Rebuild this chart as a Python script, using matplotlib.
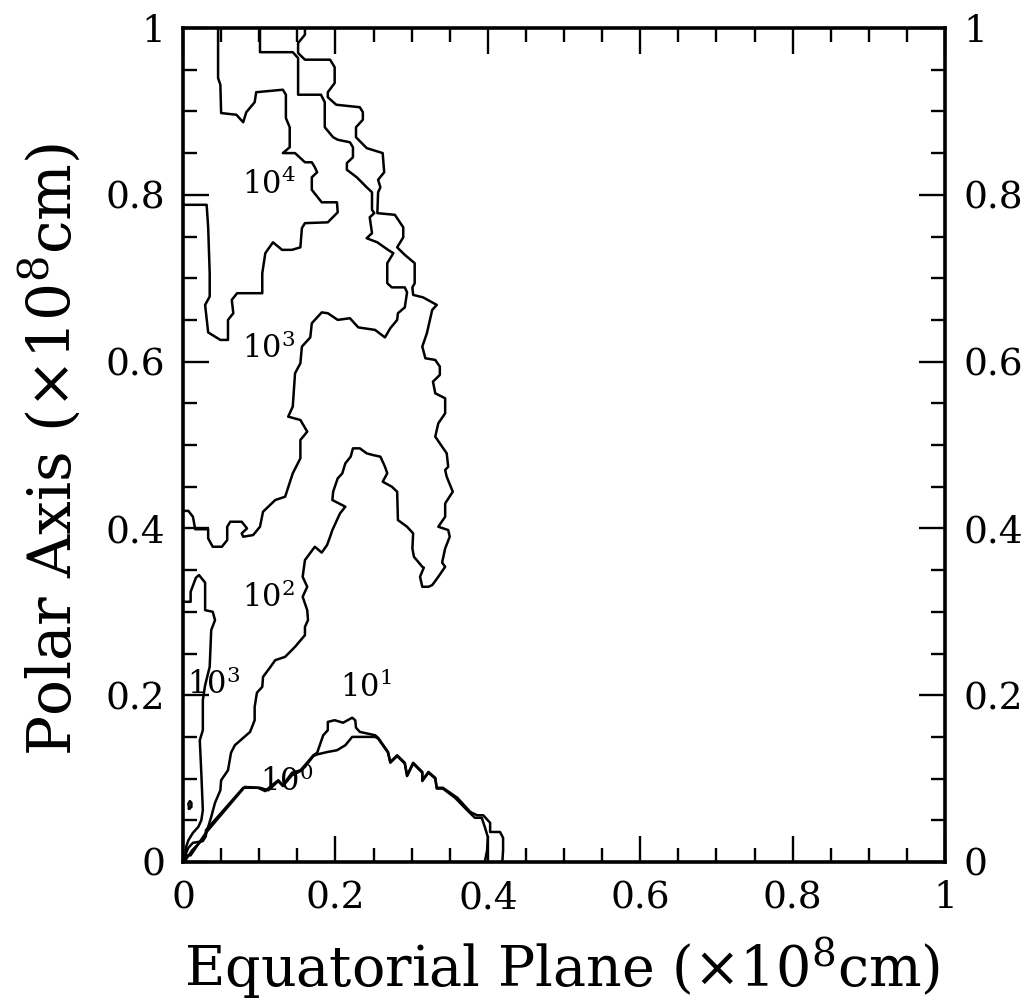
import matplotlib
matplotlib.use("Agg")
import matplotlib.pyplot as plt
from matplotlib.ticker import MultipleLocator

# contour traces, (x, y) in units of 1e8 cm
c4 = [(0.046, 1.0), (0.046, 0.940), (0.049, 0.932), (0.050, 0.898), (0.070, 0.896),
      (0.079, 0.887), (0.083, 0.899), (0.094, 0.911), (0.096, 0.923), (0.131, 0.926),
      (0.135, 0.920), (0.135, 0.892), (0.140, 0.881), (0.140, 0.857), (0.131, 0.850),
      (0.147, 0.850), (0.160, 0.839), (0.169, 0.839), (0.173, 0.833), (0.176, 0.827),
      (0.169, 0.821), (0.169, 0.806), (0.182, 0.791), (0.202, 0.791), (0.203, 0.779),
      (0.190, 0.767), (0.160, 0.766), (0.156, 0.760), (0.154, 0.737), (0.143, 0.734),
      (0.130, 0.734), (0.118, 0.743), (0.108, 0.730), (0.104, 0.706), (0.104, 0.682),
      (0.071, 0.682), (0.064, 0.674), (0.066, 0.658), (0.059, 0.650), (0.059, 0.626),
      (0.049, 0.626), (0.033, 0.635), (0.029, 0.668), (0.035, 0.678), (0.035, 0.706),
      (0.033, 0.761), (0.031, 0.788), (0.0, 0.788)]

c3_upper = [(0.101, 1.0), (0.101, 0.971), (0.144, 0.971), (0.151, 0.964), (0.151, 0.920),
            (0.181, 0.920), (0.186, 0.911), (0.186, 0.881), (0.197, 0.869), (0.203, 0.866),
            (0.219, 0.863), (0.223, 0.857), (0.223, 0.845), (0.215, 0.838), (0.215, 0.830),
            (0.228, 0.821), (0.241, 0.809), (0.248, 0.803), (0.248, 0.782), (0.251, 0.778),
            (0.245, 0.773), (0.248, 0.754), (0.241, 0.748), (0.255, 0.743), (0.269, 0.734),
            (0.276, 0.730), (0.268, 0.718), (0.268, 0.694), (0.274, 0.689), (0.291, 0.689),
            (0.294, 0.683), (0.291, 0.665), (0.282, 0.658), (0.281, 0.650), (0.272, 0.640),
            (0.265, 0.629), (0.252, 0.638), (0.230, 0.641), (0.219, 0.652), (0.203, 0.650),
            (0.190, 0.658), (0.182, 0.659), (0.169, 0.646), (0.167, 0.629), (0.156, 0.618),
            (0.154, 0.598), (0.147, 0.586), (0.144, 0.546), (0.138, 0.534), (0.154, 0.530),
            (0.163, 0.516), (0.154, 0.506), (0.154, 0.484), (0.144, 0.466), (0.134, 0.438),
            (0.121, 0.434), (0.105, 0.420), (0.101, 0.402), (0.092, 0.392), (0.079, 0.390),
            (0.077, 0.394), (0.084, 0.400), (0.077, 0.408), (0.062, 0.408), (0.058, 0.402),
            (0.058, 0.386), (0.051, 0.378), (0.039, 0.378), (0.033, 0.388), (0.033, 0.399),
            (0.016, 0.399), (0.013, 0.414), (0.007, 0.421), (0.0, 0.421)]

c2 = [(0.160, 1.0), (0.160, 0.992), (0.151, 0.982), (0.151, 0.970), (0.160, 0.962),
      (0.193, 0.962), (0.199, 0.953), (0.199, 0.934), (0.190, 0.923), (0.190, 0.917),
      (0.201, 0.908), (0.232, 0.905), (0.236, 0.899), (0.236, 0.890), (0.227, 0.881),
      (0.227, 0.869), (0.241, 0.856), (0.262, 0.850), (0.264, 0.827), (0.256, 0.818),
      (0.259, 0.809), (0.256, 0.803), (0.255, 0.778), (0.278, 0.776), (0.289, 0.761),
      (0.289, 0.749), (0.281, 0.737), (0.291, 0.728), (0.304, 0.718), (0.304, 0.694),
      (0.301, 0.689), (0.302, 0.680), (0.315, 0.677), (0.333, 0.668), (0.327, 0.662),
      (0.324, 0.650), (0.320, 0.634), (0.314, 0.618), (0.318, 0.604), (0.331, 0.602),
      (0.337, 0.594), (0.337, 0.584), (0.328, 0.576), (0.331, 0.562), (0.344, 0.556),
      (0.344, 0.538), (0.335, 0.526), (0.331, 0.510), (0.340, 0.498), (0.346, 0.490),
      (0.348, 0.474), (0.344, 0.470), (0.346, 0.462), (0.354, 0.444), (0.344, 0.430),
      (0.344, 0.414), (0.335, 0.402), (0.348, 0.398), (0.350, 0.390), (0.344, 0.376),
      (0.340, 0.359), (0.344, 0.354), (0.335, 0.342), (0.327, 0.332), (0.322, 0.330),
      (0.314, 0.330), (0.311, 0.342), (0.316, 0.353), (0.314, 0.354), (0.303, 0.366),
      (0.301, 0.376), (0.302, 0.394), (0.294, 0.402), (0.282, 0.410), (0.281, 0.444),
      (0.274, 0.450), (0.262, 0.456), (0.268, 0.466), (0.265, 0.474), (0.259, 0.486),
      (0.249, 0.488), (0.241, 0.490), (0.232, 0.496), (0.223, 0.496), (0.220, 0.486),
      (0.213, 0.478), (0.209, 0.466), (0.203, 0.460), (0.197, 0.444), (0.196, 0.434),
      (0.213, 0.426), (0.206, 0.418), (0.202, 0.410), (0.196, 0.398), (0.193, 0.390),
      (0.189, 0.380), (0.182, 0.371), (0.173, 0.378), (0.160, 0.362), (0.157, 0.342),
      (0.163, 0.330), (0.157, 0.318), (0.163, 0.302), (0.164, 0.290), (0.160, 0.282),
      (0.160, 0.272), (0.147, 0.258), (0.134, 0.246), (0.121, 0.242), (0.114, 0.233),
      (0.105, 0.222), (0.104, 0.210), (0.097, 0.203), (0.094, 0.186), (0.094, 0.170),
      (0.088, 0.156), (0.068, 0.140), (0.063, 0.131), (0.059, 0.110), (0.050, 0.098),
      (0.049, 0.086), (0.042, 0.071), (0.037, 0.054), (0.029, 0.030), (0.012, 0.014),
      (0.003, 0.002)]

c3_lower = [(0.0, 0.312), (0.010, 0.312), (0.010, 0.324), (0.017, 0.341), (0.021, 0.344),
            (0.029, 0.335), (0.029, 0.302), (0.039, 0.300), (0.042, 0.290), (0.037, 0.278),
            (0.035, 0.234), (0.029, 0.212), (0.026, 0.194), (0.026, 0.158), (0.022, 0.146),
            (0.024, 0.107), (0.026, 0.062), (0.024, 0.050), (0.020, 0.042), (0.013, 0.035),
            (0.007, 0.026), (0.004, 0.018), (0.003, 0.006)]

c3_dot = [(0.008, 0.064), (0.011, 0.066), (0.011, 0.071), (0.009, 0.073),
          (0.007, 0.070), (0.008, 0.064)]

c1 = [(0.0, 0.002), (0.007, 0.017), (0.013, 0.023), (0.026, 0.025), (0.030, 0.031),
      (0.030, 0.038), (0.079, 0.089), (0.098, 0.089), (0.108, 0.085), (0.114, 0.090),
      (0.125, 0.098), (0.131, 0.092), (0.143, 0.107), (0.154, 0.110), (0.160, 0.116),
      (0.171, 0.128), (0.176, 0.131), (0.184, 0.152), (0.190, 0.158), (0.190, 0.168),
      (0.199, 0.170), (0.210, 0.167), (0.222, 0.173), (0.226, 0.170), (0.227, 0.161),
      (0.232, 0.156), (0.252, 0.152), (0.256, 0.149), (0.269, 0.132), (0.272, 0.120),
      (0.281, 0.128), (0.291, 0.119), (0.294, 0.104), (0.302, 0.119), (0.314, 0.108),
      (0.314, 0.098), (0.322, 0.108), (0.331, 0.101), (0.333, 0.089), (0.341, 0.089),
      (0.360, 0.077), (0.377, 0.060), (0.386, 0.056), (0.394, 0.056), (0.403, 0.047),
      (0.403, 0.036), (0.416, 0.036), (0.420, 0.029), (0.420, 0.014), (0.419, 0.0)]

c0 = [(0.003, 0.008), (0.010, 0.008), (0.030, 0.035), (0.081, 0.090), (0.101, 0.089),
      (0.112, 0.086), (0.125, 0.097), (0.131, 0.091), (0.143, 0.104), (0.154, 0.109),
      (0.160, 0.114), (0.171, 0.127), (0.176, 0.129), (0.190, 0.132), (0.202, 0.134),
      (0.213, 0.140), (0.222, 0.150), (0.252, 0.150), (0.256, 0.148), (0.269, 0.131),
      (0.272, 0.119), (0.281, 0.127), (0.291, 0.118), (0.294, 0.103), (0.302, 0.118),
      (0.314, 0.107), (0.314, 0.097), (0.322, 0.107), (0.331, 0.100), (0.333, 0.088),
      (0.341, 0.088), (0.357, 0.077), (0.373, 0.062), (0.383, 0.053), (0.392, 0.053),
      (0.396, 0.042), (0.400, 0.030), (0.399, 0.014), (0.396, 0.0)]

contours = [c4, c3_upper, c2, c3_lower, c3_dot, c1, c0]

# contour level labels and where they sit
level_text = [r'$10^4$', r'$10^3$', r'$10^2$', r'$10^3$', r'$10^1$', r'$10^0$']
level_x = [0.112, 0.112, 0.112, 0.040, 0.240, 0.136]
level_y = [0.812, 0.615, 0.317, 0.212, 0.209, 0.096]

ticks = [0, 0.2, 0.4, 0.6, 0.8, 1]
tick_labels = ['0', '0.2', '0.4', '0.6', '0.8', '1']

plt.rcParams['font.family'] = 'DejaVu Serif'
plt.rcParams['mathtext.fontset'] = 'dejavuserif'

fig = plt.figure(figsize=(10.34, 10.0), dpi=100)
ax = fig.add_axes([0.177, 0.138, 0.737, 0.834])

for c in contours:
    xs = [p[0] for p in c]
    ys = [p[1] for p in c]
    ax.plot(xs, ys, color='black', lw=1.8, solid_joinstyle='round')

for t, x, y in zip(level_text, level_x, level_y):
    ax.text(x, y, t, fontsize=22, ha='center', va='center')

ax.set_xlim(0, 1)
ax.set_ylim(0, 1)
ax.set_xticks(ticks)
ax.set_xticklabels(tick_labels)
ax.set_yticks(ticks)
ax.set_yticklabels(tick_labels)
ax.xaxis.set_minor_locator(MultipleLocator(0.05))
ax.yaxis.set_minor_locator(MultipleLocator(0.05))
ax.tick_params(which='both', direction='in', top=True, right=True,
               labelright=True, width=1.7, labelsize=27, pad=13)
ax.tick_params(which='major', length=19)
ax.tick_params(which='minor', length=10)
for s in ax.spines.values():
    s.set_linewidth(2.6)

ax.set_xlabel(r'Equatorial Plane ($\times$10$^8$cm)', fontsize=40)
ax.set_ylabel(r'Polar Axis ($\times$10$^8$cm)', fontsize=43)
ax.xaxis.label.set_va('center')
ax.yaxis.label.set_va('center')
ax.xaxis.set_label_coords(0.497, -0.127)
ax.yaxis.set_label_coords(-0.175, 0.494)

fig.savefig('out.png', dpi=100)
